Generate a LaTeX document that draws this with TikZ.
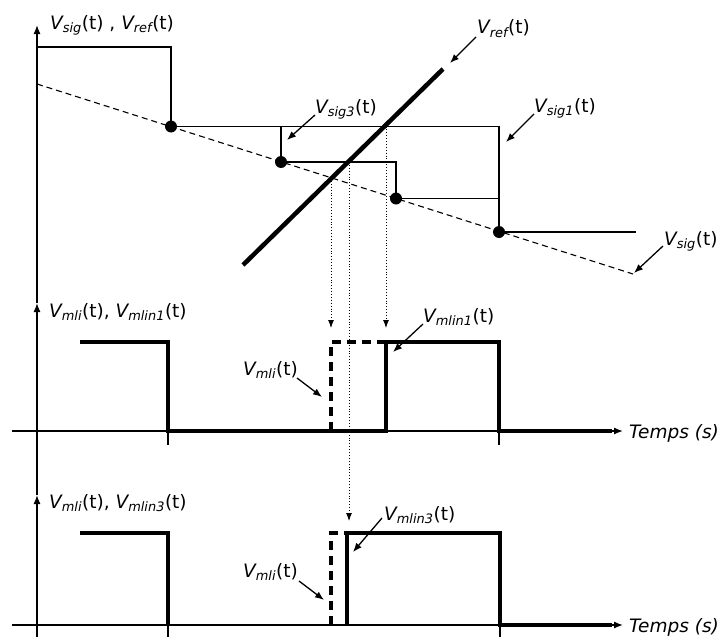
\documentclass[tikz,border=0pt]{standalone}
\usepackage{fontspec}
\setmainfont{DejaVu Sans}
\usetikzlibrary{arrows.meta}
\newcommand{\sig}[1]{{\itshape V\textsubscript{#1}}(t)}
\begin{document}
\begin{tikzpicture}[x=1pt,y=-1pt,
  thinline/.style={line width=1.3pt},
  axis/.style={line width=1.3pt,-{Latex[length=9pt,width=7pt]}},
  wave/.style={line width=3.2pt},
  dwave/.style={line width=3.2pt,dash pattern=on 9pt off 6pt},
  refline/.style={line width=4.5pt},
  sigline/.style={line width=1.1pt,dash pattern=on 6pt off 4pt},
  dotarrow/.style={line width=0.9pt,dotted,-{Latex[length=8pt,width=6pt]}},
  lblarrow/.style={line width=1.3pt,-{Latex[length=9pt,width=7pt]}},
  lbl/.style={font=\fontsize{18.5}{21}\selectfont,anchor=base west,inner sep=0pt},
  dotmark/.style={circle,fill=black,inner sep=0pt,minimum size=12pt}]
\useasboundingbox (0,0) rectangle (726,637);
% axes
\coordinate (ax0) at (37,637);
\coordinate (ax1) at (37,495);
\coordinate (ax2) at (37,303);
\coordinate (ax3) at (37,25);
\draw[axis] (ax0) -- (ax1);
\draw[axis] (ax1) -- (ax2);
\draw[axis] (ax2) -- (ax3);
\coordinate (xm0) at (12,431); \coordinate (xm1) at (623,431);
\coordinate (xb0) at (12,625); \coordinate (xb1) at (623,625);
\draw[axis] (xm0) -- (xm1);
\draw[axis] (xb0) -- (xb1);
% Vsig dashed
\coordinate (s0) at (37,84); \coordinate (s1) at (633,274);
\draw[sigline] (s0) -- (s1);
% staircases
\node[dotmark] (d1) at (171,126.5) {};
\node[dotmark] (d3) at (281,162) {};
\node[dotmark] (d4) at (396,198.5) {};
\node[dotmark] (d2) at (499,232) {};
\coordinate (p0) at (37,47); \coordinate (p1) at (171,47);
\coordinate (p2) at (499,126.5); \coordinate (p3) at (636,232);
\coordinate (q0) at (281,126.5); \coordinate (q1) at (396,162);
\coordinate (q2) at (499,198.5);
\draw[thinline] (p0) -- (p1) -- (d1.center) -- (p2) -- (d2.center) -- (p3);
\draw[thinline] (q0) -- (d3.center) -- (q1) -- (d4.center) -- (q2);
% Vref
\coordinate (r0) at (243,265); \coordinate (r1) at (443,69);
\draw[refline] (r0) -- (r1);
% dotted projections
\coordinate (t1a) at (331,178); \coordinate (t1b) at (331,328);
\coordinate (t2a) at (386,126.5); \coordinate (t2b) at (386,328);
\coordinate (t3a) at (349,162); \coordinate (t3b) at (349,521);
\draw[dotarrow] (t1a) -- (t1b);
\draw[dotarrow] (t2a) -- (t2b);
\draw[dotarrow] (t3a) -- (t3b);
% middle waveforms
\coordinate (m0) at (80,342); \coordinate (m1) at (168,342); \coordinate (m2) at (168,431);
\coordinate (m3) at (386,431); \coordinate (m4) at (386,342); \coordinate (m5) at (499,342);
\coordinate (m6) at (499,431); \coordinate (m7) at (612,431);
\coordinate (mt1) at (168,445); \coordinate (mt2) at (499,445);
\draw[thinline] (m2) -- (mt1);
\draw[thinline] (m6) -- (mt2);
\coordinate (md0) at (331,431); \coordinate (md1) at (331,342); \coordinate (md2) at (386,342);
\draw[dwave] (md0) -- (md1) -- (md2);
\draw[wave,line join=miter] (m0) -- (m1) -- (m2) -- (m3) -- (m4) -- (m5) -- (m6) -- (m7);
% bottom waveforms
\coordinate (b0) at (80,533); \coordinate (b1) at (168,533); \coordinate (b2) at (168,625);
\coordinate (b3) at (347,625); \coordinate (b4) at (347,533); \coordinate (b5) at (500,533);
\coordinate (b6) at (500,625); \coordinate (b7) at (612,625);
\coordinate (bt1) at (168,637); \coordinate (bt2) at (500,637);
\draw[thinline] (b2) -- (bt1);
\draw[thinline] (b6) -- (bt2);
\coordinate (bd0) at (331,625); \coordinate (bd1) at (331,533); \coordinate (bd2) at (345,533);
\draw[dwave] (bd0) -- (bd1) -- (bd2);
\draw[wave,line join=miter] (b0) -- (b1) -- (b2);
\draw[wave,line join=miter] (b3) -- (b4) -- (b5) -- (b6) -- (b7);
% labels
\node[lbl] (L0) at (50,29) {\sig{sig} , \sig{ref}};
\node[lbl] (Lref) at (477,34) {\sig{ref}};
\node[lbl] (Lsig1) at (534,112) {\sig{sig1}};
\node[lbl] (Lsig) at (664,245) {\sig{sig}};
\node[lbl] (Lsig3) at (315,113) {\sig{sig3}};
\node[lbl] (Lm) at (49,317) {\sig{mli}, \sig{mlin1}};
\node[lbl] (Lmli1) at (243,375) {\sig{mli}};
\node[lbl] (Lmlin1) at (423,322) {\sig{mlin1}};
\node[lbl] (Lb) at (49,508) {\sig{mli}, \sig{mlin3}};
\node[lbl] (Lmli3) at (243,577) {\sig{mli}};
\node[lbl] (Lmlin3) at (384,520) {\sig{mlin3}};
\node[lbl] (T1) at (629,438) {\itshape Temps (s)};
\node[lbl] (T2) at (629,632) {\itshape Temps (s)};
% label arrows
\coordinate (aref0) at (476,37); \coordinate (aref1) at (450,63);
\coordinate (asig10) at (534,114); \coordinate (asig11) at (506,142);
\coordinate (asig0) at (663,246); \coordinate (asig1) at (634,273);
\coordinate (asig30) at (315,115); \coordinate (asig31) at (287,140);
\coordinate (ami10) at (297,378); \coordinate (ami11) at (322,397);
\coordinate (aml10) at (423,324); \coordinate (aml11) at (393,352);
\coordinate (ami30) at (299,581); \coordinate (ami31) at (324,600);
\coordinate (aml30) at (382,518); \coordinate (aml31) at (353,552);
\draw[lblarrow] (aref0) -- (aref1);
\draw[lblarrow] (asig10) -- (asig11);
\draw[lblarrow] (asig0) -- (asig1);
\draw[lblarrow] (asig30) -- (asig31);
\draw[lblarrow] (ami10) -- (ami11);
\draw[lblarrow] (aml10) -- (aml11);
\draw[lblarrow] (ami30) -- (ami31);
\draw[lblarrow] (aml30) -- (aml31);
\end{tikzpicture}
\end{document}
